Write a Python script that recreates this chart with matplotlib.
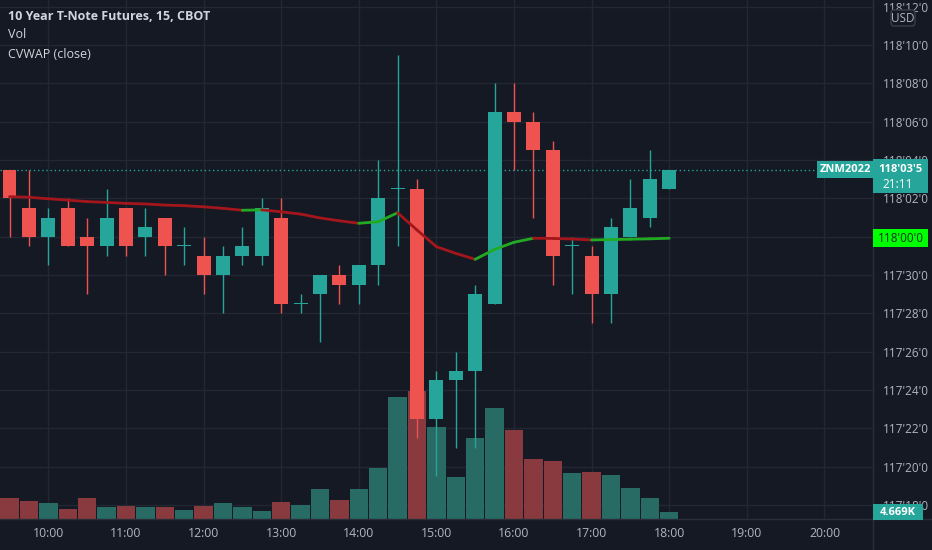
import numpy as np
import matplotlib
matplotlib.use("Agg")
import matplotlib.pyplot as plt
import matplotlib.transforms as mtransforms
from matplotlib.patches import Rectangle, FancyBboxPatch
from matplotlib.lines import Line2D

# 15 minute bars, prices given in 32nds above 117'00
BASE = 117
times = ["09:30", "09:45", "10:00", "10:15", "10:30", "10:45", "11:00", "11:15",
         "11:30", "11:45", "12:00", "12:15", "12:30", "12:45", "13:00", "13:15",
         "13:30", "13:45", "14:00", "14:15", "14:30", "14:45", "15:00", "15:15",
         "15:30", "15:45", "16:00", "16:15", "16:30", "16:45", "17:00", "17:15",
         "17:30", "17:45", "18:00"]
open32 = [35.5, 33.5, 32.0, 33.5, 32.0, 31.5, 33.5, 32.0, 33.0, 31.5, 31.0, 30.0,
          31.0, 31.0, 33.0, 28.5, 29.0, 30.0, 29.5, 30.5, 34.5, 34.5, 22.5, 24.5,
          25.0, 28.5, 38.5, 38.0, 36.5, 31.5, 31.0, 29.0, 32.0, 33.0, 34.5]
high32 = [35.5, 35.5, 33.5, 34.0, 33.0, 34.5, 33.5, 33.5, 33.0, 32.5, 32.0, 31.5,
          32.5, 34.0, 34.0, 29.0, 30.0, 30.5, 30.5, 36.0, 41.5, 35.0, 25.0, 26.0,
          29.5, 40.0, 40.0, 38.5, 37.0, 32.0, 31.5, 33.0, 35.0, 36.5, 35.5]
low32 = [32.0, 31.5, 30.5, 31.5, 29.0, 31.0, 31.0, 31.0, 30.0, 30.5, 29.0, 28.0,
         30.5, 30.5, 28.0, 28.0, 26.5, 28.5, 28.5, 29.5, 31.5, 21.5, 19.5, 21.0,
         21.0, 28.5, 35.5, 33.0, 29.5, 29.0, 27.5, 27.5, 32.0, 32.5, 34.5]
close32 = [34.0, 32.0, 33.0, 31.5, 31.5, 33.0, 31.5, 32.5, 31.5, 31.5, 30.0, 31.0,
           31.5, 33.5, 28.5, 28.5, 30.0, 29.5, 30.5, 34.0, 34.5, 22.5, 24.5, 25.0,
           29.0, 38.5, 38.0, 36.5, 31.0, 31.5, 29.0, 32.5, 33.5, 35.0, 35.5]
volume_k = [13.7, 11.8, 10.3, 6.8, 13.7, 8.1, 8.7, 7.8, 8.1, 6.2, 8.7, 10.3,
            7.8, 5.6, 10.9, 9.3, 19.3, 12.5, 19.3, 32.4, 76.6, 80.3, 57.9, 26.8,
            51.0, 69.7, 56.0, 38.0, 36.7, 29.3, 29.9, 28.0, 19.9, 13.7, 4.669]
cvwap32 = [34.09, 34.06, 33.98, 33.91, 33.83, 33.79, 33.74, 33.71, 33.65, 33.62,
           33.56, 33.48, 33.38, 33.40, 33.30, 33.18, 32.98, 32.83, 32.70, 32.78,
           33.25, 32.35, 31.48, 31.13, 30.82, 31.34, 31.71, 31.92, 31.91, 31.88,
           31.83, 31.85, 31.87, 31.89, 31.92]
hour_labels = ["10:00", "11:00", "12:00", "13:00", "14:00", "15:00", "16:00",
               "17:00", "18:00", "19:00", "20:00"]

BG = "#151924"
GRID = "#232733"
TXT = "#b2b5be"
UP = "#26a69a"
DN = "#ef5350"
UP_VOL = "#286b64"
DN_VOL = "#893a3e"
plt.rcParams["font.family"] = ["Open Sans", "DejaVu Sans"]

o = np.array(open32)
h = np.array(high32)
l = np.array(low32)
c = np.array(close32)
vol = np.array(volume_k)
x = np.arange(len(times))
up = c >= o


def minutes(t):
    hh, mm = t.split(":")
    return int(hh) * 60 + int(mm)


t0 = minutes(times[0])
hour_pos = [(minutes(t) - t0) / 15 for t in hour_labels]


def fmt32(v, pos=None):
    whole = int(np.floor(v / 32))
    rem = v - whole * 32
    n = int(np.floor(rem + 1e-9))
    q = int(round((rem - n) * 4))
    return f"{BASE + whole}'{n:02d}'{'0257'[q]}"


fig = plt.figure(figsize=(9.32, 5.5), dpi=100, facecolor=BG)
ax = fig.add_axes([0, 30 / 550, 873 / 932, 520 / 550])
ax.set_facecolor(BG)
ax.set_xlim(-0.49, 44.5)
ax.set_ylim(17.22, 44.35)
for s in ax.spines.values():
    s.set_visible(False)

yt = np.arange(18, 45, 2)
ax.set_yticks(yt)
# the 118'00'0 tick sits fully under the CVWAP price tag
ax.set_yticklabels(["" if v == 32 else fmt32(v) for v in yt])
ax.yaxis.tick_right()
ax.set_xticks(hour_pos)
ax.set_xticklabels(hour_labels)
ax.tick_params(axis="y", length=0, pad=7, labelcolor=TXT, labelsize=8.5)
ax.tick_params(axis="x", length=0, pad=5, labelcolor=TXT, labelsize=8.8)
ax.grid(True, color=GRID, linewidth=1)
ax.set_axisbelow(True)

# volume overlay in the lower part of the pane
vol_top = vol.max() * 4.03
vol_tr = mtransforms.blended_transform_factory(
    ax.transData, mtransforms.Affine2D().scale(1, 1 / vol_top) + ax.transAxes)
for xi, vi, u in zip(x, vol, up):
    ax.add_patch(Rectangle((xi - 0.475, 0), 0.95, vi, transform=vol_tr,
                           facecolor=UP_VOL if u else DN_VOL, edgecolor="none", zorder=1))

# last price line
ax.axhline(c[-1], color=UP, linewidth=1, linestyle=(0, (1, 2)), zorder=1.5)

# candles
cols = np.where(up, UP, DN)
ax.vlines(x, l, h, colors=cols, linewidth=1, zorder=3)
body_lo = np.minimum(o, c)
body_h = np.maximum(np.abs(c - o), 0.06)
ax.bar(x, body_h, bottom=body_lo, width=0.72, color=cols, zorder=3.5)

# CVWAP line, green when rising, red when falling
for i in range(1, len(cvwap32)):
    col = "#22ab22" if cvwap32[i] > cvwap32[i - 1] else "#a3161c"
    ax.plot(x[i - 1:i + 1], cvwap32[i - 1:i + 1], color=col, linewidth=2,
            solid_capstyle="round", zorder=4)

# pane borders
fig.add_artist(Line2D([873 / 932, 873 / 932], [0, 1], color="#2a2e39", linewidth=1))
fig.add_artist(Line2D([0, 1], [31 / 550, 31 / 550], color="#2a2e39", linewidth=1))

# legend texts
fig.text(8 / 932, 1 - 17 / 550, "10 Year T-Note Futures, 15, CBOT", color="#d1d4dc",
         fontsize=9, fontweight="bold", va="center")
fig.text(8 / 932, 1 - 35 / 550, "Vol", color="#d1d4dc", fontsize=9, va="center")
fig.text(8 / 932, 1 - 55 / 550, "CVWAP (close)", color="#d1d4dc", fontsize=9, va="center")

ident = mtransforms.IdentityTransform()


def box(x0, x1, y0, y1, fc):
    fig.add_artist(Rectangle((x0, y0), x1 - x0, y1 - y0, transform=ident,
                             facecolor=fc, edgecolor="none", zorder=20))


def label(xp, yp, s, col, ha="left", weight="normal", size=8.5):
    fig.text(xp, yp, s, transform=ident, color=col, fontsize=size, ha=ha,
             va="center", fontweight=weight, zorder=21)


yc = ax.transData.transform((0, c[-1]))[1]
box(817, 873, yc - 8.5, yc + 8.5, UP)
label(845, yc, "ZNM2022", "white", ha="center", weight="bold", size=8)
box(873, 928, yc - 23.5, yc + 10.5, UP)
label(900.5, yc, fmt32(c[-1]), "white", ha="center", weight="bold", size=8)
label(882, yc - 15, "21:11", "white")

yv = ax.transData.transform((0, cvwap32[-1]))[1]
box(873, 928, yv - 9, yv + 9, "#00ff00")
label(900.5, yv, fmt32(round(cvwap32[-1] * 2) / 2), "#10301a", ha="center")

yl = vol_tr.transform((0, vol[-1]))[1]
box(873, 923, yl - 8, yl + 8, UP)
label(898, yl, f"{vol[-1]:.3f}K", "white", ha="center", weight="bold", size=8)

fig.add_artist(FancyBboxPatch((891, 550 - 26), 24, 16, boxstyle="round,pad=0,rounding_size=3",
                              transform=ident, facecolor=BG, edgecolor="#3a3e4a",
                              linewidth=1, zorder=20))
label(903, 550 - 18, "USD", TXT, ha="center")

fig.savefig("out.png", dpi=100, facecolor=BG)
